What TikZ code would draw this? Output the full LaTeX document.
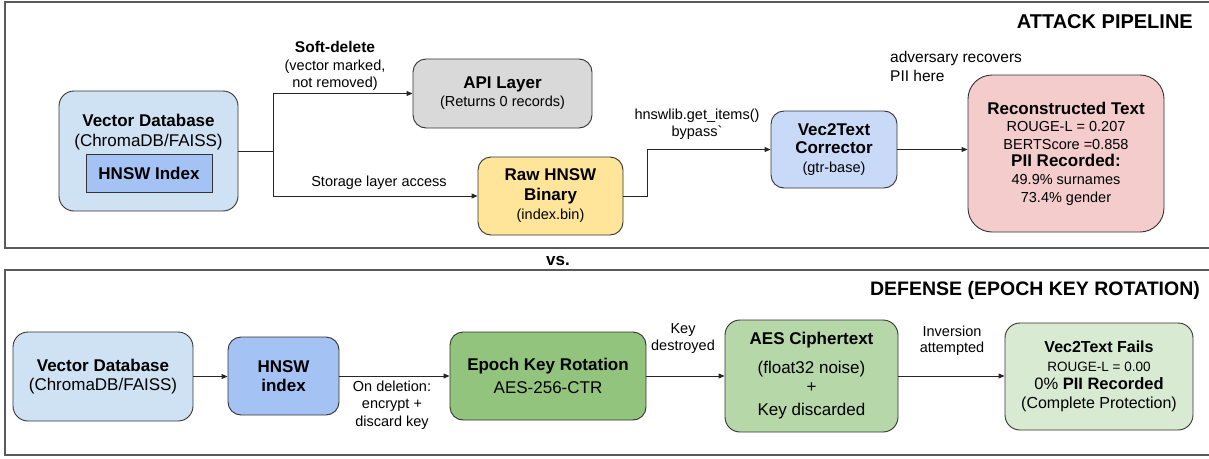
\documentclass[tikz,border=0pt]{standalone}
\usepackage{fontspec}
\setmainfont{Liberation Sans}
% family without TeX ligature mapping, so a backtick stays a backtick
\newfontfamily\plainsans{Liberation Sans}
\usetikzlibrary{arrows.meta}

\definecolor{edge}{HTML}{333333}
\definecolor{wire}{HTML}{262626}
\definecolor{framegray}{HTML}{5A5A5A}
\definecolor{dbblue}{HTML}{CFE2F3}
\definecolor{idxblue}{HTML}{A4C2F4}
\definecolor{apigray}{HTML}{D9D9D9}
\definecolor{rawyellow}{HTML}{FFE599}
\definecolor{vecblue}{HTML}{C9DAF8}
\definecolor{recred}{HTML}{F4CCCC}
\definecolor{epochgreen}{HTML}{93C47D}
\definecolor{aesgreen}{HTML}{B6D7A8}
\definecolor{failgreen}{HTML}{D9EAD3}

\newcommand\setfs[2]{\fontsize{#1}{#2}\selectfont}
\newcommand\headtxt[1]{{\setfs{17}{20}\bfseries #1}}

\begin{document}
\begin{tikzpicture}[x=1pt,y=-1pt,
  box/.style={draw=edge, line width=0.9pt, rounded corners=13pt, align=center, inner sep=0pt},
  lbl/.style={align=center, inner sep=0pt, font=\setfs{14.5}{17.5}},
  conn/.style={draw=wire, line width=0.9pt},
  arr/.style={conn, -{Triangle[length=6pt,width=5pt]}},
  panel/.style={draw=framegray, line width=1.3pt}]

\useasboundingbox (0,0) rectangle (1209,458);

% panel frames (open towards the right edge)
\draw[panel] (1215,2) -- (5,2) -- (5,248) -- (1215,248);
\draw[panel] (1215,270) -- (5,270) -- (5,455) -- (1215,455);

% titles
\node[anchor=east, inner sep=0pt, font=\setfs{20}{24}\bfseries] (t1) at (1193,22) {ATTACK PIPELINE};
\node[anchor=east, inner sep=0pt, font=\setfs{19.5}{24}\bfseries] (t2) at (1200,290) {DEFENSE (EPOCH KEY ROTATION)};
\node[inner sep=0pt, font=\setfs{17}{20}\bfseries] (vs) at (558,261) {vs.};

% ---------------- attack pipeline ----------------
\node[box, fill=dbblue, minimum width=179pt, minimum height=120pt, rounded corners=15pt] (db1) at (148.5,151) {};
\node[align=center, inner sep=0pt, font=\setfs{17}{19.5}] (db1txt) at (148.5,132) {\textbf{Vector Database}\\(ChromaDB/FAISS)};
\node[draw=edge, line width=0.9pt, fill=idxblue, minimum width=126pt, minimum height=38pt, inner sep=0pt,
      font=\setfs{17}{20}\bfseries] (idx1) at (149,173) {HNSW Index};

\node[box, fill=apigray, minimum width=179pt, minimum height=69pt, font=\setfs{14.5}{18}] (api) at (502.5,93.5)
  {\headtxt{API Layer}\\(Returns 0 records)};

\node[box, fill=rawyellow, minimum width=145pt, minimum height=78pt, font=\setfs{14.5}{19.5}] (raw) at (550.5,196)
  {\headtxt{Raw HNSW}\\\headtxt{Binary}\\(index.bin)};

\node[box, fill=vecblue, minimum width=126pt, minimum height=77pt, font=\setfs{14.5}{18.5}] (vec) at (834,149.5)
  {\headtxt{Vec2Text}\\\headtxt{Corrector}\\(gtr-base)};

\node[box, fill=recred, minimum width=196pt, minimum height=157pt, rounded corners=24pt, font=\setfs{14.5}{17.6}] (rec) at (1066,153.5)
  {\headtxt{Reconstructed Text}\\ROUGE-L = 0.207\\BERTScore =0.858\\\headtxt{PII Recorded:}\\49.9\% surnames\\73.4\% gender};

% edge labels
\node[lbl] (sd) at (335,66) {{\setfs{15.5}{17}\bfseries Soft-delete}\\(vector marked,\\not removed)};
\node[lbl] (sl) at (379,183) {Storage layer access};
\node[lbl, font=\setfs{14.5}{16.5}] (hb) at (697,124) {hnswlib.get\_items()\\bypass{\plainsans`}};
\node[anchor=west, align=left, inner sep=0pt, font=\setfs{15.5}{19}] (adv) at (890,66) {adversary recovers\\PII here};

% connectors
\coordinate (j1) at (273,151);
\coordinate (j2) at (647,196);
\draw[conn] (db1.east) -- (j1);
\draw[arr] (j1) |- (api.west);
\draw[arr] (j1) |- (raw.west);
\draw[arr] (raw.east) -- (j2) |- (vec.west);
\draw[arr] (vec.east) -- (vec.east -| rec.west);

% ---------------- defense ----------------
\node[box, fill=dbblue, minimum width=180pt, minimum height=89pt, rounded corners=15pt, font=\setfs{17}{19.5}] (db2) at (103,376.5)
  {\textbf{Vector Database}\\(ChromaDB/FAISS)};
\node[box, fill=idxblue, minimum width=111pt, minimum height=78pt, font=\setfs{17}{19.5}\bfseries] (hnsw2) at (283.5,376)
  {HNSW\\index};
\node[box, fill=epochgreen, minimum width=196pt, minimum height=88pt, font=\setfs{17}{23}] (epoch) at (548,376)
  {\textbf{Epoch Key Rotation}\\AES-256-CTR};
\node[box, fill=aesgreen, minimum width=173pt, minimum height=112pt, rounded corners=15pt, font=\setfs{17}{19}] (aes) at (811.5,376)
  {\textbf{AES Ciphertext}\\[10pt](float32 noise)\\+\\[4pt]Key discarded};
\node[box, fill=failgreen, minimum width=188pt, minimum height=107pt, rounded corners=15pt, font=\setfs{16}{18.7}] (fail) at (1099,376.5)
  {\textbf{Vec2Text Fails}\\{\setfs{13.5}{15}ROUGE-L = 0.00}\\{\setfs{16.5}{18}0\% \textbf{PII Recorded}}\\(Complete Protection)};

\node[lbl] (od) at (392,405) {On deletion:\\encrypt +\\discard key};
\node[lbl, font=\setfs{14.5}{17}] (kd) at (683,339) {Key\\destroyed};
\node[lbl, font=\setfs{14.5}{16}] (ia) at (952,341) {Inversion\\attempted};

\draw[arr] (db2.east) -- (db2.east -| hnsw2.west);
\draw[arr] (hnsw2.east) -- (hnsw2.east -| epoch.west);
\draw[arr] (epoch.east) -- (epoch.east -| aes.west);
\draw[arr] (aes.east) -- (aes.east -| fail.west);
\end{tikzpicture}
\end{document}
